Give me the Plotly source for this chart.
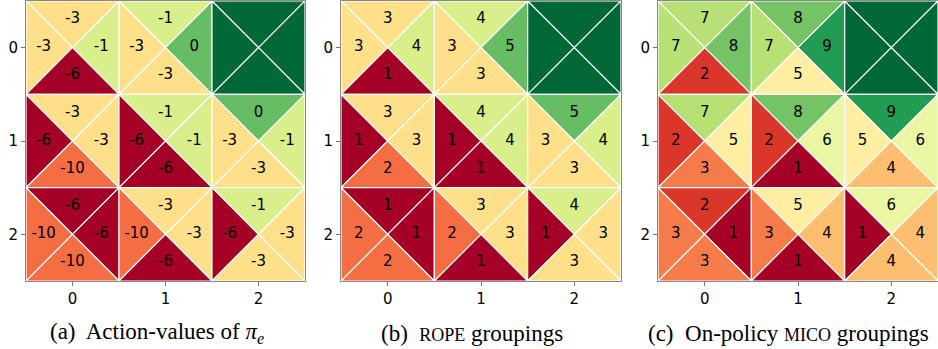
import plotly.graph_objects as go
from plotly.colors import sample_colorscale

# Each cell holds four triangle values in the order: top, left, right, bottom.
# None marks the terminal (goal) cell.
q_values = [
    [[-3, -3, -1, -6], [-1, -3, 0, -3], None],
    [[-3, -6, -3, -10], [-1, -6, -1, -6], [0, -3, -1, -3]],
    [[-6, -10, -6, -10], [-3, -10, -3, -6], [-1, -6, -3, -3]],
]
rope_groups = [
    [[3, 3, 4, 1], [4, 3, 5, 3], None],
    [[3, 1, 3, 2], [4, 1, 4, 1], [5, 3, 4, 3]],
    [[1, 2, 1, 2], [3, 2, 3, 1], [4, 1, 3, 3]],
]
mico_groups = [
    [[7, 7, 8, 2], [8, 7, 9, 5], None],
    [[7, 2, 5, 3], [8, 2, 6, 1], [9, 5, 6, 4]],
    [[2, 3, 1, 3], [5, 3, 4, 1], [6, 1, 4, 4]],
]
tick_labels = ["0", "1", "2"]
captions = [
    "(a)  Action-values of <i>π</i><sub><i>e</i></sub>",
    "(b)  <span style='font-size:18px'>ROPE</span> groupings",
    "(c)  On-policy <span style='font-size:18px'>MICO</span> groupings",
]

# (labels, colour groups) per panel; the action-value panel is coloured by the ROPE groups
panels = [
    (q_values, rope_groups),
    (rope_groups, rope_groups),
    (mico_groups, mico_groups),
]

x_domains = [(26 / 938, 305 / 938), (341 / 938, 621 / 938), (658 / 938, 1.0)]
y_domain = (1 - 281 / 349, 1 - 1 / 349)
caption_x = [157 / 938, 472 / 938, 788 / 938]

# triangle corner offsets relative to the cell centre (y grows downward)
tri_shapes = [
    [(-0.5, -0.5), (0.5, -0.5), (0, 0)],   # top
    [(-0.5, -0.5), (-0.5, 0.5), (0, 0)],   # left
    [(0.5, -0.5), (0.5, 0.5), (0, 0)],     # right
    [(-0.5, 0.5), (0.5, 0.5), (0, 0)],     # bottom
]
label_offsets = [(0, -0.3), (-0.31, 0), (0.31, 0), (0, 0.3)]

fig = go.Figure()

for p, (labels, groups) in enumerate(panels):
    xa = "x" if p == 0 else f"x{p + 1}"
    ya = "y" if p == 0 else f"y{p + 1}"
    n_levels = max(g for row in groups for cell in row if cell for g in cell) + 1

    def colour(g):
        return sample_colorscale("RdYlGn", [(g - 1) / (n_levels - 1)])[0]

    tx, ty, tt = [], [], []
    for r, row in enumerate(groups):
        for c, cell in enumerate(row):
            for k, shape in enumerate(tri_shapes):
                g = n_levels if cell is None else cell[k]
                xs = [c + dx for dx, dy in shape] + [c + shape[0][0]]
                ys = [r + dy for dx, dy in shape] + [r + shape[0][1]]
                fig.add_trace(go.Scatter(
                    x=xs, y=ys, mode="lines", fill="toself",
                    fillcolor=colour(g), line=dict(color="white", width=1.2),
                    hoverinfo="skip", showlegend=False, xaxis=xa, yaxis=ya,
                ))
                if cell is not None:
                    ox, oy = label_offsets[k]
                    tx.append(c + ox)
                    ty.append(r + oy)
                    tt.append(str(labels[r][c][k]))
    fig.add_trace(go.Scatter(
        x=tx, y=ty, text=tt, mode="text",
        textfont=dict(family="DejaVu Sans", size=15, color="black"),
        hoverinfo="skip", showlegend=False, xaxis=xa, yaxis=ya,
    ))

axis_common = dict(
    tickvals=[0, 1, 2], ticktext=tick_labels, ticks="outside", ticklen=4,
    tickcolor="#777", tickwidth=1, showline=True, mirror=True,
    linecolor="#888", linewidth=1, showgrid=False, zeroline=False,
    tickfont=dict(family="DejaVu Sans", size=15, color="black"),
)

layout = dict(
    width=938, height=349, margin=dict(l=0, r=0, t=0, b=0),
    paper_bgcolor="white", plot_bgcolor="white",
)
for p in range(3):
    sx = "" if p == 0 else str(p + 1)
    layout[f"xaxis{sx}"] = dict(
        domain=list(x_domains[p]), range=[-0.5, 2.5], anchor=f"y{sx}", **axis_common
    )
    layout[f"yaxis{sx}"] = dict(
        domain=list(y_domain), range=[2.5, -0.5], anchor=f"x{sx}", **axis_common
    )

layout["annotations"] = [
    dict(text=captions[p], x=caption_x[p], y=1 - 333 / 349, xref="paper", yref="paper",
         xanchor="center", yanchor="middle", showarrow=False,
         font=dict(family="Liberation Serif", size=23, color="black"))
    for p in range(3)
]

fig.update_layout(**layout)
fig.write_html("out.html")
